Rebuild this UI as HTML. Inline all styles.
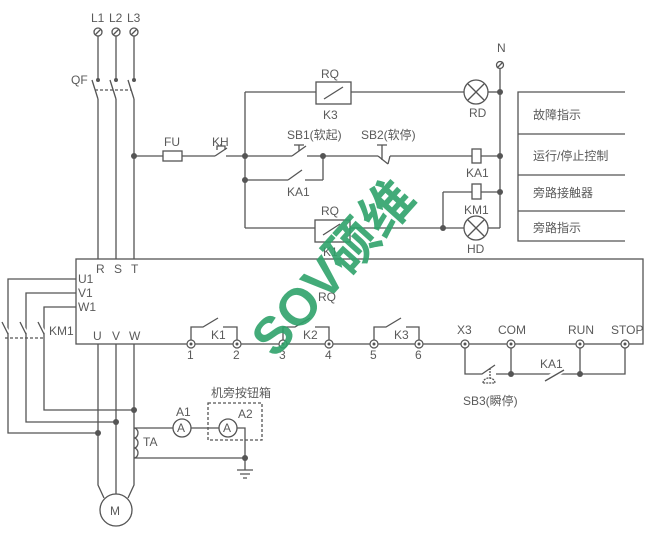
<!DOCTYPE html>
<html><head><meta charset="utf-8"><style>
html,body{margin:0;padding:0;background:#fff;width:662px;height:540px;overflow:hidden}
text{font-family:"Liberation Sans","Noto Sans CJK SC",sans-serif;fill:#5a5a5a;font-size:12px}
</style></head><body>
<svg width="662" height="540" viewBox="0 0 662 540" xmlns="http://www.w3.org/2000/svg">
<g stroke="#555" stroke-width="1.3" fill="none">
<circle cx="98" cy="32" r="4"/><line x1="95" y1="35" x2="101" y2="29"/>
<circle cx="116" cy="32" r="4"/><line x1="113" y1="35" x2="119" y2="29"/>
<circle cx="134" cy="32" r="4"/><line x1="131" y1="35" x2="137" y2="29"/>
<line x1="98" y1="36" x2="98" y2="80"/><line x1="116" y1="36" x2="116" y2="80"/><line x1="134" y1="36" x2="134" y2="80"/>
<line x1="92" y1="80" x2="98" y2="99"/><line x1="110" y1="80" x2="116" y2="99"/><line x1="128" y1="80" x2="134" y2="99"/>
<line x1="95" y1="90" x2="131" y2="90" stroke-dasharray="3,2"/>
<line x1="98" y1="99" x2="98" y2="259"/><line x1="116" y1="99" x2="116" y2="259"/><line x1="134" y1="99" x2="134" y2="259"/>
<line x1="134" y1="156" x2="163" y2="156"/><rect x="163" y="151" width="19" height="10"/>
<line x1="182" y1="156" x2="215" y2="156"/><line x1="215" y1="156" x2="227" y2="148"/><line x1="226" y1="156" x2="245" y2="156"/>
<path d="M217 150 v-4 h8 v4 M221 146 v-2"/>
<line x1="245" y1="92" x2="245" y2="228"/>
<line x1="245" y1="92" x2="316" y2="92"/><rect x="316" y="82" width="35" height="22"/>
<line x1="324" y1="99" x2="343" y2="87"/><line x1="351" y1="92" x2="464" y2="92"/>
<circle cx="476" cy="92" r="12"/><line x1="468" y1="84" x2="484" y2="100"/><line x1="484" y1="84" x2="468" y2="100"/>
<line x1="488" y1="92" x2="500" y2="92"/>
<circle cx="500" cy="65" r="3.5"/><line x1="497" y1="68" x2="503" y2="62"/>
<line x1="500" y1="69" x2="500" y2="228"/>
<line x1="245" y1="156" x2="292" y2="156"/><line x1="292" y1="156" x2="306" y2="146"/><line x1="307" y1="156" x2="378" y2="156"/>
<path d="M299 151 v-6 M294 145 h10"/>
<line x1="245" y1="180" x2="288" y2="180"/><line x1="288" y1="180" x2="302" y2="170"/><line x1="305" y1="180" x2="323" y2="180"/><line x1="323" y1="180" x2="323" y2="156"/>
<line x1="378" y1="156" x2="388" y2="164"/><line x1="388" y1="164" x2="390" y2="156"/><path d="M382 160 v-15 M377 145 h10"/>
<line x1="390" y1="156" x2="472" y2="156"/><rect x="472" y="149" width="9" height="14"/><line x1="481" y1="156" x2="500" y2="156"/>
<line x1="443" y1="192" x2="472" y2="192"/><rect x="472" y="184" width="9" height="15"/><line x1="481" y1="192" x2="500" y2="192"/>
<line x1="443" y1="192" x2="443" y2="228"/>
<line x1="245" y1="228" x2="315" y2="228"/><rect x="315" y="220" width="35" height="22"/><line x1="323" y1="235" x2="340" y2="224"/>
<line x1="350" y1="228" x2="464" y2="228"/>
<circle cx="476" cy="228" r="12"/><line x1="468" y1="220" x2="484" y2="236"/><line x1="484" y1="220" x2="468" y2="236"/>
<line x1="488" y1="228" x2="500" y2="228"/>
<path d="M625 92 H518 V241 H625 M518 134 H625 M518 175 H625 M518 211 H625"/>
<rect x="76" y="259" width="567" height="85"/>
<path d="M76 279 H8 V433 H98 M76 293 H26 V422 H116 M76 307 H44 V410 H134"/>
<line x1="2" y1="322" x2="8" y2="333" stroke="#fff" stroke-width="4"/>
<line x1="20" y1="322" x2="26" y2="333" stroke="#fff" stroke-width="4"/>
<line x1="38" y1="322" x2="44" y2="333" stroke="#fff" stroke-width="4"/>
<line x1="2" y1="322" x2="8" y2="334"/><line x1="20" y1="322" x2="26" y2="334"/><line x1="38" y1="322" x2="44" y2="334"/>
<line x1="5" y1="338" x2="44" y2="338" stroke-dasharray="3,2"/>
<path d="M98 344 V485 L104 498 M116 344 V494 M134 344 V485 L128 498"/>
<circle cx="116" cy="510" r="16"/>
<path d="M134 428 a4 5 0 0 1 0 10 a4 5 0 0 1 0 10 a4 5 0 0 1 0 10"/>
<path d="M134 428 H173 M191 428 H219 M237 428 H245 V458 H134"/>
<circle cx="182" cy="428" r="9"/><circle cx="228" cy="428" r="9"/>
<path d="M245 458 V470 M237 470 H253 M240 474 H250 M243 478 H247"/>
<rect x="208" y="403" width="54" height="37" stroke-dasharray="3,2"/>
<path d="M191 340 V327 H203 L218 318 M223 327 H237 V340"/>
<path d="M283 340 V327 H295 L310 318 M315 327 H329 V340"/>
<path d="M374 340 V327 H386 L401 318 M406 327 H419 V340"/>
<path d="M465 344 V374 H482 L495 365 M496 374 H625 V344 M511 344 V374 M580 344 V374"/>
<line x1="544" y1="381" x2="566" y2="368" stroke="#fff" stroke-width="6"/>
<line x1="545" y1="381" x2="564" y2="370"/>
<path d="M490 368 V380 M483 383 a6 5 0 0 1 12 0 Z" stroke-dasharray="2,1"/>
</g>
<g fill="#555">
<circle cx="134" cy="156" r="3"/><circle cx="245" cy="156" r="3"/><circle cx="245" cy="180" r="3"/><circle cx="323" cy="156" r="3"/>
<circle cx="500" cy="92" r="3"/><circle cx="500" cy="156" r="3"/><circle cx="500" cy="192" r="3"/><circle cx="443" cy="228" r="3"/>
<circle cx="98" cy="433" r="3"/><circle cx="116" cy="422" r="3"/><circle cx="134" cy="410" r="3"/><circle cx="245" cy="458" r="3"/>
<circle cx="511" cy="374" r="3"/><circle cx="580" cy="374" r="3"/>
<circle cx="98" cy="80" r="2"/><circle cx="116" cy="80" r="2"/><circle cx="134" cy="80" r="2"/>
</g>
<g fill="#fff" stroke="#555" stroke-width="1.2">
<circle cx="191" cy="344" r="4"/><circle cx="237" cy="344" r="4"/><circle cx="283" cy="344" r="4"/><circle cx="329" cy="344" r="4"/>
<circle cx="374" cy="344" r="4"/><circle cx="419" cy="344" r="4"/><circle cx="465" cy="344" r="4"/><circle cx="511" cy="344" r="4"/>
<circle cx="580" cy="344" r="4"/><circle cx="625" cy="344" r="4"/>
</g>
<g fill="#555">
<circle cx="191" cy="344" r="1.5"/><circle cx="237" cy="344" r="1.5"/><circle cx="283" cy="344" r="1.5"/><circle cx="329" cy="344" r="1.5"/>
<circle cx="374" cy="344" r="1.5"/><circle cx="419" cy="344" r="1.5"/><circle cx="465" cy="344" r="1.5"/><circle cx="511" cy="344" r="1.5"/>
<circle cx="580" cy="344" r="1.5"/><circle cx="625" cy="344" r="1.5"/>
</g>
<text x="91" y="22">L1</text><text x="109" y="22">L2</text><text x="127" y="22">L3</text>
<text x="71" y="84">QF</text><text x="497" y="52">N</text>
<text x="164" y="146">FU</text><text x="212" y="146">KH</text>
<text x="321" y="78">RQ</text><text x="323" y="119">K3</text>
<text x="287" y="139">SB1(软起)</text><text x="361" y="139">SB2(软停)</text>
<text x="287" y="196">KA1</text><text x="469" y="117">RD</text>
<text x="466" y="177">KA1</text><text x="464" y="214">KM1</text><text x="467" y="253">HD</text>
<text x="321" y="215">RQ</text><text x="323" y="256">K1</text><text x="318" y="301">RQ</text>
<text x="533" y="119">故障指示</text><text x="533" y="160">运行/停止控制</text><text x="533" y="197">旁路接触器</text><text x="533" y="232">旁路指示</text>
<text x="96" y="273">R</text><text x="114" y="273">S</text><text x="131" y="273">T</text>
<text x="78" y="283">U1</text><text x="78" y="297">V1</text><text x="78" y="311">W1</text>
<text x="49" y="335">KM1</text>
<text x="93" y="340">U</text><text x="112" y="340">V</text><text x="129" y="340">W</text>
<text x="211" y="339">K1</text><text x="303" y="339">K2</text><text x="394" y="339">K3</text>
<text x="187" y="359">1</text><text x="233" y="359">2</text><text x="279" y="359">3</text><text x="325" y="359">4</text><text x="370" y="359">5</text><text x="415" y="359">6</text>
<text x="457" y="334">X3</text><text x="498" y="334">COM</text><text x="568" y="334">RUN</text><text x="611" y="334">STOP</text>
<text x="540" y="368">KA1</text><text x="463" y="405">SB3(瞬停)</text>
<text x="211" y="397">机旁按钮箱</text><text x="176" y="416">A1</text><text x="238" y="418">A2</text>
<text x="143" y="446">TA</text>
<text x="177" y="432" font-size="11">A</text><text x="223" y="432" font-size="11">A</text>
<text x="110" y="515">M</text>
<text transform="translate(333,268) rotate(-48)" text-anchor="middle" y="18" style="font-size:52px;font-weight:bold;fill:#2fa36b;opacity:0.9">SOV硕维</text>
</svg>
</body></html>
